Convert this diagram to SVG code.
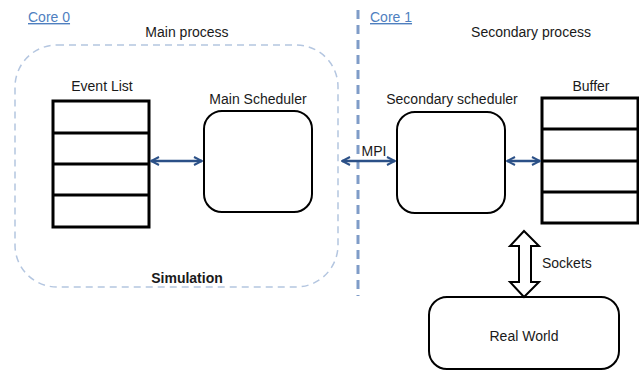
<svg xmlns="http://www.w3.org/2000/svg" width="639" height="371" viewBox="0 0 639 371">
<style>
text{font-family:"Liberation Sans",Arial,sans-serif;font-size:14px;fill:#1a1a1a}
.core{fill:#4f7fbf;text-decoration:underline}
.box{fill:#fff;stroke:#000;stroke-width:2}
.list{fill:#fff;stroke:#000;stroke-width:3}
.conn{stroke:#2b5087;stroke-width:2.5;fill:none;marker-start:url(#ah);marker-end:url(#ah)}
</style>
<defs>
<marker id="ah" viewBox="0 0 10 10" refX="9" refY="5" markerWidth="4" markerHeight="4" orient="auto-start-reverse" markerUnits="strokeWidth">
<path d="M1,1 L9,5 L1,9" fill="none" stroke="#2b5087" stroke-width="2"/>
</marker>
</defs>
<rect width="639" height="371" fill="#fff"/>
<g id="simulation">
<rect x="15" y="45" width="323" height="242" rx="42" fill="none" stroke="#b4c6e0" stroke-width="1.5" stroke-dasharray="7,5"/>
<text x="187" y="283" text-anchor="middle" font-weight="bold">Simulation</text>
</g>
<g id="divider">
<line x1="358" y1="10" x2="358" y2="296" stroke="#7f9cc8" stroke-width="3" stroke-dasharray="9,6"/>
</g>
<g id="labels">
<text class="core" x="28" y="22">Core 0</text>
<text class="core" x="370" y="22">Core 1</text>
<text x="187" y="37" text-anchor="middle">Main process</text>
<text x="531" y="37" text-anchor="middle">Secondary process</text>
</g>
<g id="event-list">
<text x="102" y="91" text-anchor="middle">Event List</text>
<rect class="list" x="53" y="101" width="96" height="126"/>
<line x1="53" y1="133" x2="149" y2="133" stroke="#000" stroke-width="3"/>
<line x1="53" y1="164" x2="149" y2="164" stroke="#000" stroke-width="3"/>
<line x1="53" y1="195" x2="149" y2="195" stroke="#000" stroke-width="3"/>
</g>
<g id="main-scheduler">
<text x="258" y="104" text-anchor="middle">Main Scheduler</text>
<rect class="box" x="204" y="111" width="108" height="101" rx="18"/>
</g>
<g id="secondary-scheduler">
<text x="452" y="104" text-anchor="middle">Secondary scheduler</text>
<rect class="box" x="397" y="112" width="108" height="101" rx="18"/>
</g>
<g id="buffer">
<text x="591" y="91" text-anchor="middle">Buffer</text>
<rect class="list" x="542" y="98" width="96" height="125"/>
<line x1="542" y1="129" x2="638" y2="129" stroke="#000" stroke-width="3"/>
<line x1="542" y1="161" x2="638" y2="161" stroke="#000" stroke-width="3"/>
<line x1="542" y1="192" x2="638" y2="192" stroke="#000" stroke-width="3"/>
</g>
<g id="real-world">
<rect class="box" x="429" y="297" width="190" height="72" rx="18"/>
<text x="524" y="341" text-anchor="middle">Real World</text>
</g>
<g id="connectors">
<line class="conn" x1="151" y1="161" x2="202" y2="161"/>
<line class="conn" x1="342" y1="161" x2="395" y2="161"/>
<text x="374" y="156" text-anchor="middle" font-size="11">MPI</text>
<line class="conn" x1="507" y1="161" x2="540" y2="161"/>
<path d="M524,231 L539,246 L531,246 L531,282 L539,282 L524,297 L510,282 L519,282 L519,246 L510,246 Z" fill="#fff" stroke="#000" stroke-width="2" stroke-linejoin="miter"/>
<text x="542" y="268">Sockets</text>
</g>
</svg>
